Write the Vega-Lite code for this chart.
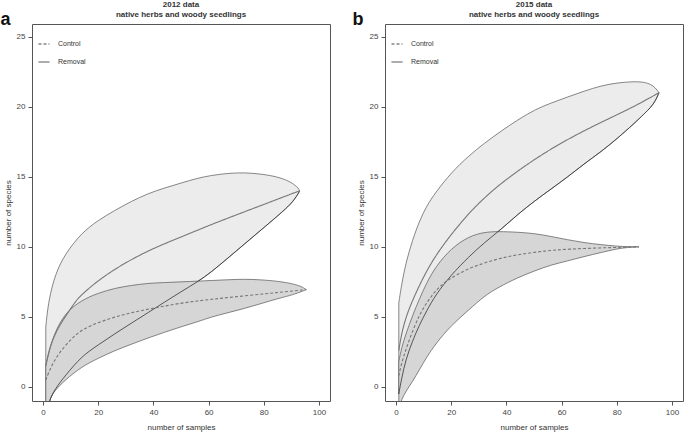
{
  "$schema": "https://vega.github.io/schema/vega-lite/v6.json",
  "background": "white",
  "padding": {"left": 0, "top": 0, "right": 0, "bottom": 0},
  "spacing": 21,
  "config": {
    "font": "Liberation Sans",
    "view": {"stroke": "#555", "strokeWidth": 1},
    "axis": {"domain": false, "grid": false, "tickColor": "#555", "tickSize": 4, "labelFontSize": 8, "labelColor": "#444", "labelPadding": 3, "titleFontSize": 8, "titleFontWeight": "normal", "titleColor": "#333"},
    "axisX": {"titlePadding": 7},
    "axisY": {"titlePadding": 4, "labelAngle": 0}
  },
  "datasets": {
    "bands": [
      {"panel":"a","band":"Removal","x":1,"lo":-2.5,"hi":4.3},
      {"panel":"a","band":"Removal","x":2,"lo":-1.0,"hi":6.2},
      {"panel":"a","band":"Removal","x":4.5,"lo":-0.1,"hi":8.1},
      {"panel":"a","band":"Removal","x":8,"lo":0.8,"hi":9.5},
      {"panel":"a","band":"Removal","x":14,"lo":2.2,"hi":11.0},
      {"panel":"a","band":"Removal","x":20,"lo":3.0,"hi":11.9},
      {"panel":"a","band":"Removal","x":26,"lo":3.8,"hi":12.6},
      {"panel":"a","band":"Removal","x":32,"lo":4.55,"hi":13.25},
      {"panel":"a","band":"Removal","x":38,"lo":5.3,"hi":13.8},
      {"panel":"a","band":"Removal","x":44,"lo":6.05,"hi":14.2},
      {"panel":"a","band":"Removal","x":50,"lo":6.8,"hi":14.55},
      {"panel":"a","band":"Removal","x":56,"lo":7.5,"hi":14.9},
      {"panel":"a","band":"Removal","x":61,"lo":8.2,"hi":15.1},
      {"panel":"a","band":"Removal","x":67,"lo":9.2,"hi":15.25},
      {"panel":"a","band":"Removal","x":73,"lo":10.2,"hi":15.3},
      {"panel":"a","band":"Removal","x":79,"lo":11.2,"hi":15.2},
      {"panel":"a","band":"Removal","x":85,"lo":12.2,"hi":15.0},
      {"panel":"a","band":"Removal","x":89,"lo":12.9,"hi":14.7},
      {"panel":"a","band":"Removal","x":91,"lo":13.35,"hi":14.45},
      {"panel":"a","band":"Removal","x":92.5,"lo":13.8,"hi":14.2},
      {"panel":"a","band":"Removal","x":93,"lo":14.0,"hi":14.0},
      {"panel":"a","band":"Control","x":1,"lo":-2.5,"hi":1.5},
      {"panel":"a","band":"Control","x":2,"lo":-1.0,"hi":2.4},
      {"panel":"a","band":"Control","x":4,"lo":-0.3,"hi":3.8},
      {"panel":"a","band":"Control","x":8,"lo":0.5,"hi":5.3},
      {"panel":"a","band":"Control","x":14,"lo":1.45,"hi":6.2},
      {"panel":"a","band":"Control","x":20,"lo":2.05,"hi":6.7},
      {"panel":"a","band":"Control","x":26,"lo":2.6,"hi":7.05},
      {"panel":"a","band":"Control","x":32,"lo":3.05,"hi":7.25},
      {"panel":"a","band":"Control","x":38,"lo":3.5,"hi":7.4},
      {"panel":"a","band":"Control","x":44,"lo":3.9,"hi":7.45},
      {"panel":"a","band":"Control","x":50,"lo":4.3,"hi":7.5},
      {"panel":"a","band":"Control","x":56,"lo":4.65,"hi":7.55},
      {"panel":"a","band":"Control","x":61,"lo":5.0,"hi":7.6},
      {"panel":"a","band":"Control","x":67,"lo":5.3,"hi":7.65},
      {"panel":"a","band":"Control","x":73,"lo":5.6,"hi":7.7},
      {"panel":"a","band":"Control","x":79,"lo":5.95,"hi":7.65},
      {"panel":"a","band":"Control","x":85,"lo":6.3,"hi":7.55},
      {"panel":"a","band":"Control","x":89,"lo":6.5,"hi":7.42},
      {"panel":"a","band":"Control","x":91,"lo":6.62,"hi":7.33},
      {"panel":"a","band":"Control","x":93.6,"lo":6.8,"hi":7.18},
      {"panel":"a","band":"Control","x":95.4,"lo":6.95,"hi":6.95},
      {"panel":"b","band":"Removal","x":1,"lo":-0.5,"hi":6.0},
      {"panel":"b","band":"Removal","x":2,"lo":0.6,"hi":7.3},
      {"panel":"b","band":"Removal","x":3.6,"lo":2.0,"hi":8.9},
      {"panel":"b","band":"Removal","x":6,"lo":3.3,"hi":10.5},
      {"panel":"b","band":"Removal","x":8.4,"lo":4.4,"hi":11.8},
      {"panel":"b","band":"Removal","x":11,"lo":5.4,"hi":12.9},
      {"panel":"b","band":"Removal","x":14.4,"lo":6.6,"hi":13.9},
      {"panel":"b","band":"Removal","x":20,"lo":8.0,"hi":15.3},
      {"panel":"b","band":"Removal","x":26.4,"lo":9.3,"hi":16.5},
      {"panel":"b","band":"Removal","x":32,"lo":10.3,"hi":17.4},
      {"panel":"b","band":"Removal","x":38.4,"lo":11.3,"hi":18.3},
      {"panel":"b","band":"Removal","x":44,"lo":12.3,"hi":19.05},
      {"panel":"b","band":"Removal","x":50.4,"lo":13.3,"hi":19.8},
      {"panel":"b","band":"Removal","x":56,"lo":14.1,"hi":20.25},
      {"panel":"b","band":"Removal","x":62.3,"lo":15.0,"hi":20.7},
      {"panel":"b","band":"Removal","x":68,"lo":15.9,"hi":21.1},
      {"panel":"b","band":"Removal","x":74.4,"lo":16.8,"hi":21.5},
      {"panel":"b","band":"Removal","x":80,"lo":17.7,"hi":21.7},
      {"panel":"b","band":"Removal","x":86.3,"lo":18.8,"hi":21.8},
      {"panel":"b","band":"Removal","x":90,"lo":19.5,"hi":21.75},
      {"panel":"b","band":"Removal","x":92.3,"lo":19.95,"hi":21.6},
      {"panel":"b","band":"Removal","x":94,"lo":20.4,"hi":21.35},
      {"panel":"b","band":"Removal","x":95.3,"lo":21.0,"hi":21.0},
      {"panel":"b","band":"Control","x":1,"lo":-1.5,"hi":1.8},
      {"panel":"b","band":"Control","x":2,"lo":-0.9,"hi":2.8},
      {"panel":"b","band":"Control","x":3.6,"lo":-0.3,"hi":3.8},
      {"panel":"b","band":"Control","x":6,"lo":0.4,"hi":5.1},
      {"panel":"b","band":"Control","x":8.4,"lo":1.2,"hi":6.25},
      {"panel":"b","band":"Control","x":11,"lo":2.1,"hi":7.4},
      {"panel":"b","band":"Control","x":14.4,"lo":3.1,"hi":8.6},
      {"panel":"b","band":"Control","x":20,"lo":4.4,"hi":9.9},
      {"panel":"b","band":"Control","x":26.4,"lo":5.5,"hi":10.75},
      {"panel":"b","band":"Control","x":32,"lo":6.5,"hi":11.05},
      {"panel":"b","band":"Control","x":37,"lo":7.1,"hi":11.1},
      {"panel":"b","band":"Control","x":44,"lo":7.8,"hi":11.05},
      {"panel":"b","band":"Control","x":50.4,"lo":8.3,"hi":10.95},
      {"panel":"b","band":"Control","x":56,"lo":8.7,"hi":10.75},
      {"panel":"b","band":"Control","x":62.3,"lo":9.0,"hi":10.5},
      {"panel":"b","band":"Control","x":68,"lo":9.3,"hi":10.3},
      {"panel":"b","band":"Control","x":74.4,"lo":9.6,"hi":10.15},
      {"panel":"b","band":"Control","x":80,"lo":9.85,"hi":10.05},
      {"panel":"b","band":"Control","x":82.7,"lo":9.93,"hi":10.02},
      {"panel":"b","band":"Control","x":85,"lo":9.97,"hi":10.01},
      {"panel":"b","band":"Control","x":88,"lo":10.0,"hi":10.0}
    ],
    "lines": [
      {"panel":"a","series":"Removal","x":1,"y":1.5},
      {"panel":"a","series":"Removal","x":2,"y":2.5},
      {"panel":"a","series":"Removal","x":3.5,"y":3.4},
      {"panel":"a","series":"Removal","x":5.7,"y":4.3},
      {"panel":"a","series":"Removal","x":8,"y":5.0},
      {"panel":"a","series":"Removal","x":11.7,"y":6.1},
      {"panel":"a","series":"Removal","x":14,"y":6.6},
      {"panel":"a","series":"Removal","x":20,"y":7.6},
      {"panel":"a","series":"Removal","x":26,"y":8.4},
      {"panel":"a","series":"Removal","x":32,"y":9.1},
      {"panel":"a","series":"Removal","x":40,"y":9.9},
      {"panel":"a","series":"Removal","x":50,"y":10.7},
      {"panel":"a","series":"Removal","x":61,"y":11.6},
      {"panel":"a","series":"Removal","x":73,"y":12.5},
      {"panel":"a","series":"Removal","x":85,"y":13.4},
      {"panel":"a","series":"Removal","x":93,"y":14.0},
      {"panel":"a","series":"Control","x":1,"y":0.5},
      {"panel":"a","series":"Control","x":3,"y":1.5},
      {"panel":"a","series":"Control","x":5.7,"y":2.4},
      {"panel":"a","series":"Control","x":10,"y":3.4},
      {"panel":"a","series":"Control","x":14,"y":4.1},
      {"panel":"a","series":"Control","x":20,"y":4.6},
      {"panel":"a","series":"Control","x":26,"y":5.0},
      {"panel":"a","series":"Control","x":32,"y":5.3},
      {"panel":"a","series":"Control","x":38,"y":5.55},
      {"panel":"a","series":"Control","x":50,"y":6.0},
      {"panel":"a","series":"Control","x":61,"y":6.26},
      {"panel":"a","series":"Control","x":73,"y":6.5},
      {"panel":"a","series":"Control","x":85,"y":6.74},
      {"panel":"a","series":"Control","x":95.4,"y":6.95},
      {"panel":"b","series":"Removal","x":1,"y":2.6},
      {"panel":"b","series":"Removal","x":2,"y":3.8},
      {"panel":"b","series":"Removal","x":3.6,"y":5.0},
      {"panel":"b","series":"Removal","x":6,"y":6.2},
      {"panel":"b","series":"Removal","x":10,"y":7.9},
      {"panel":"b","series":"Removal","x":14.4,"y":9.4},
      {"panel":"b","series":"Removal","x":20,"y":10.9},
      {"panel":"b","series":"Removal","x":26.4,"y":12.4},
      {"panel":"b","series":"Removal","x":32,"y":13.5},
      {"panel":"b","series":"Removal","x":38.4,"y":14.6},
      {"panel":"b","series":"Removal","x":50.4,"y":16.3},
      {"panel":"b","series":"Removal","x":62.3,"y":17.7},
      {"panel":"b","series":"Removal","x":74.4,"y":18.9},
      {"panel":"b","series":"Removal","x":86.3,"y":20.0},
      {"panel":"b","series":"Removal","x":95.3,"y":21.0},
      {"panel":"b","series":"Control","x":1,"y":0.8},
      {"panel":"b","series":"Control","x":2,"y":1.7},
      {"panel":"b","series":"Control","x":3.6,"y":2.7},
      {"panel":"b","series":"Control","x":6,"y":4.0},
      {"panel":"b","series":"Control","x":8.4,"y":5.1},
      {"panel":"b","series":"Control","x":11,"y":6.0},
      {"panel":"b","series":"Control","x":14.4,"y":6.9},
      {"panel":"b","series":"Control","x":18.2,"y":7.6},
      {"panel":"b","series":"Control","x":26.4,"y":8.5},
      {"panel":"b","series":"Control","x":36.2,"y":9.12},
      {"panel":"b","series":"Control","x":44,"y":9.45},
      {"panel":"b","series":"Control","x":54.2,"y":9.72},
      {"panel":"b","series":"Control","x":62.3,"y":9.84},
      {"panel":"b","series":"Control","x":74.4,"y":9.93},
      {"panel":"b","series":"Control","x":82.7,"y":9.97},
      {"panel":"b","series":"Control","x":88,"y":10.0}
    ]
  },
  "hconcat": [
    {
      "title": {"text": "a", "anchor": "start", "frame": "bounds", "fontSize": 18, "fontWeight": "bold", "color": "#111", "dy": 28, "dx": -3, "offset": 0},
      "vconcat": [
        {
          "width": 298, "height": 377,
          "title": {"text": ["2012 data", "native herbs and woody seedlings"], "anchor": "middle", "frame": "group", "fontSize": 8, "fontWeight": "bold", "lineHeight": 10, "offset": 5, "color": "#333"},
          "layer": [
            {"data": {"name": "bands"}, "transform": [{"filter": "datum.panel == 'a' && datum.band == 'Removal'"}],
             "mark": {"type": "area", "interpolate": "basis", "fill": "#ececec", "stroke": "#555", "strokeWidth": 0.7, "clip": true},
             "encoding": {
               "x": {"field": "x", "type": "quantitative", "scale": {"domain": [-4, 104], "nice": false, "zero": false}, "axis": {"values": [0, 20, 40, 60, 80, 100], "title": "number of samples"}},
               "y": {"field": "lo", "type": "quantitative", "scale": {"domain": [-1, 25.9], "nice": false, "zero": false}, "axis": {"values": [0, 5, 10, 15, 20, 25], "title": "number of species"}},
               "y2": {"field": "hi"}}},
            {"data": {"name": "bands"}, "transform": [{"filter": "datum.panel == 'a' && datum.band == 'Control'"}],
             "mark": {"type": "area", "interpolate": "basis", "fill": "#d6d6d6", "stroke": "#555", "strokeWidth": 0.7, "clip": true},
             "encoding": {"x": {"field": "x", "type": "quantitative"}, "y": {"field": "lo", "type": "quantitative"}, "y2": {"field": "hi"}}},
            {"data": {"name": "bands"}, "transform": [{"filter": "datum.panel == 'a' && datum.band == 'Removal'"}],
             "mark": {"type": "line", "interpolate": "basis", "stroke": "#333", "strokeWidth": 0.8, "clip": true},
             "encoding": {"x": {"field": "x", "type": "quantitative"}, "y": {"field": "lo", "type": "quantitative"}}},
            {"data": {"name": "lines"}, "transform": [{"filter": "datum.panel == 'a'"}],
             "mark": {"type": "line", "interpolate": "basis", "stroke": "#777", "strokeWidth": 1.1, "clip": true},
             "encoding": {"x": {"field": "x", "type": "quantitative"}, "y": {"field": "y", "type": "quantitative"},
               "strokeDash": {"field": "series", "type": "nominal", "scale": {"domain": ["Control", "Removal"], "range": [[3, 2], [1, 0]]},
                 "legend": {"title": null, "orient": "none", "legendX": 6, "legendY": 14, "symbolType": "stroke", "symbolStrokeColor": "#333", "symbolStrokeWidth": 0.9, "symbolSize": 121, "labelFontSize": 7, "labelColor": "#333", "rowPadding": 9, "labelOffset": 8, "padding": 0}}}}
          ]
        }
      ]
    },
    {
      "title": {"text": "b", "anchor": "start", "frame": "bounds", "fontSize": 18, "fontWeight": "bold", "color": "#111", "dy": 28, "dx": -4, "offset": 0},
      "vconcat": [
        {
          "width": 298, "height": 377,
          "title": {"text": ["2015 data", "native herbs and woody seedlings"], "anchor": "middle", "frame": "group", "fontSize": 8, "fontWeight": "bold", "lineHeight": 10, "offset": 5, "color": "#333"},
          "layer": [
            {"data": {"name": "bands"}, "transform": [{"filter": "datum.panel == 'b' && datum.band == 'Removal'"}],
             "mark": {"type": "area", "interpolate": "basis", "fill": "#ececec", "stroke": "#555", "strokeWidth": 0.7, "clip": true},
             "encoding": {
               "x": {"field": "x", "type": "quantitative", "scale": {"domain": [-4, 104], "nice": false, "zero": false}, "axis": {"values": [0, 20, 40, 60, 80, 100], "title": "number of samples"}},
               "y": {"field": "lo", "type": "quantitative", "scale": {"domain": [-1, 25.9], "nice": false, "zero": false}, "axis": {"values": [0, 5, 10, 15, 20, 25], "title": "number of species"}},
               "y2": {"field": "hi"}}},
            {"data": {"name": "bands"}, "transform": [{"filter": "datum.panel == 'b' && datum.band == 'Control'"}],
             "mark": {"type": "area", "interpolate": "basis", "fill": "#d6d6d6", "stroke": "#555", "strokeWidth": 0.7, "clip": true},
             "encoding": {"x": {"field": "x", "type": "quantitative"}, "y": {"field": "lo", "type": "quantitative"}, "y2": {"field": "hi"}}},
            {"data": {"name": "bands"}, "transform": [{"filter": "datum.panel == 'b' && datum.band == 'Removal'"}],
             "mark": {"type": "line", "interpolate": "basis", "stroke": "#333", "strokeWidth": 0.8, "clip": true},
             "encoding": {"x": {"field": "x", "type": "quantitative"}, "y": {"field": "lo", "type": "quantitative"}}},
            {"data": {"name": "lines"}, "transform": [{"filter": "datum.panel == 'b'"}],
             "mark": {"type": "line", "interpolate": "basis", "stroke": "#777", "strokeWidth": 1.1, "clip": true},
             "encoding": {"x": {"field": "x", "type": "quantitative"}, "y": {"field": "y", "type": "quantitative"},
               "strokeDash": {"field": "series", "type": "nominal", "scale": {"domain": ["Control", "Removal"], "range": [[3, 2], [1, 0]]},
                 "legend": {"title": null, "orient": "none", "legendX": 6, "legendY": 14, "symbolType": "stroke", "symbolStrokeColor": "#333", "symbolStrokeWidth": 0.9, "symbolSize": 121, "labelFontSize": 7, "labelColor": "#333", "rowPadding": 9, "labelOffset": 8, "padding": 0}}}}
          ]
        }
      ]
    }
  ],
  "resolve": {"scale": {"strokeDash": "independent"}, "legend": {"strokeDash": "independent"}}
}
